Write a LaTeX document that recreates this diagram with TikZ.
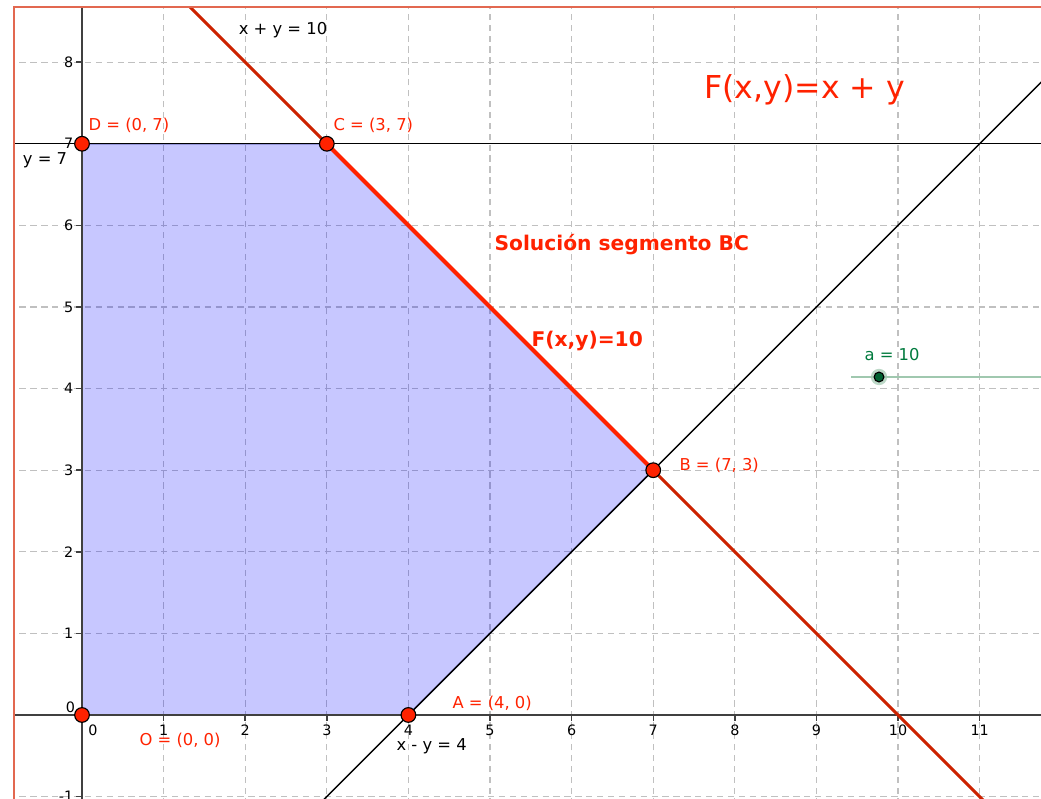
\documentclass[tikz,border=0pt]{standalone}
\usepackage{fontspec}
\setmainfont{DejaVu Sans}
\usetikzlibrary{positioning}

\definecolor{ggred}{RGB}{255,34,0}
\definecolor{ggdark}{RGB}{204,34,0}
\definecolor{ggframe}{RGB}{226,104,80}
\definecolor{gggrid}{RGB}{192,192,192}
\definecolor{ggaxis}{RGB}{64,64,64}
\definecolor{ggblue}{RGB}{60,60,150}
\definecolor{gggreen}{RGB}{0,122,61}
\definecolor{ggslider}{RGB}{160,200,175}

\begin{document}
\begin{tikzpicture}[
    gridline/.style={gggrid, line width=0.45pt, dash pattern=on 2.2pt off 1.6pt},
    axisline/.style={ggaxis, line width=0.5pt},
    thinline/.style={black, line width=0.45pt},
    pt/.style={circle, draw=black, line width=0.4pt, fill=ggred, inner sep=0pt, minimum size=0.18cm},
    lbl/.style={font=\fontsize{5.7}{7}\selectfont, inner sep=0pt},
    redlbl/.style={lbl, text=ggred, anchor=west},
    ticklbl/.style={font=\fontsize{5}{6}\selectfont, inner sep=0pt},
    boldlbl/.style={font=\bfseries\fontsize{7.05}{9}\selectfont, text=ggred, anchor=west, inner sep=0pt}
]

\useasboundingbox (-1.005,-1.029) rectangle (11.752,8.762);

% Vertices
\coordinate (o) at (0,0);
\coordinate (a) at (4,0);
\coordinate (b) at (7,3);
\coordinate (c) at (3,7);
\coordinate (d) at (0,7);

\begin{scope}
\clip (-0.833,-1.029) rectangle (11.752,8.676);

% Grid
\foreach \x in {1,...,11}
    \draw[gridline] (\x,-1.1) -- (\x,8.7);
\foreach \y in {-1,1,2,...,8}
    \draw[gridline] (-0.9,\y) -- (11.8,\y);

% Feasible region
\fill[blue, fill opacity=0.22] (o) -- (a) -- (b) -- (c) -- (d) -- cycle;
\draw[ggblue, line width=0.5pt] (o) -- (a) -- (b) -- (c) -- (d) -- cycle;

% Axes
\draw[axisline] (-0.9,0) -- (11.8,0);
\draw[axisline] (0,-1.1) -- (0,8.7);
\foreach \x in {1,...,11}
    \draw[axisline] (\x,0) -- (\x,-0.07);
\foreach \y in {-1,1,2,...,8}
    \draw[axisline] (0,\y) -- (-0.07,\y);

% Restrictions
\coordinate (h1) at (-0.9,7);
\coordinate (h2) at (11.8,7);
\draw[thinline] (h1) -- (h2);
\coordinate (m1) at (2.9,-1.1);
\coordinate (m2) at (11.8,7.8);
\draw[thinline] (m1) -- (m2);
\coordinate (s1) at (1.2,8.8);
\coordinate (s2) at (11.1,-1.1);
\draw[ggdark, line width=1.05pt] (s1) -- (s2);
\draw[ggred, line width=1.45pt] (c) -- (b);

% Slider
\coordinate (sl1) at (9.424,4.142);
\coordinate (sl2) at (11.8,4.142);
\draw[ggslider, line width=0.6pt] (sl1) -- (sl2);
\end{scope}

% Frame
\draw[ggframe, line width=0.75pt] (-0.833,-1.1) -- (-0.833,8.676) -- (11.8,8.676);

% Tick labels
\foreach \x in {1,...,11}
    \node[ticklbl, anchor=north] (xt\x) at (\x,-0.12) {\x};
\node[ticklbl, anchor=north] (xt0) at (0.135,-0.12) {0};
\foreach \y in {-1,1,2,...,8}
    \node[ticklbl, anchor=east] (yt\y) at (-0.1,\y) {\y};
\node[ticklbl, anchor=east] (yt0) at (-0.08,0.09) {0};

% Points
\node[pt] (po) at (o) {};
\node[pt] (pa) at (a) {};
\node[pt] (pb) at (b) {};
\node[pt] (pc) at (c) {};
\node[pt] (pd) at (d) {};

\node[circle, fill=ggslider, fill opacity=0.7, inner sep=0pt, minimum size=0.2cm] (halo) at (9.767,4.142) {};
\node[circle, draw=black, line width=0.4pt, fill=gggreen!80!black, inner sep=0pt, minimum size=0.12cm] (ap) at (9.767,4.142) {};

% Labels
\node[lbl] (eq10) at (2.463,8.395) {x + y = 10};
\node[lbl] (eq7) at (-0.453,6.801) {y = 7};
\node[lbl, anchor=west] (eq4) at (3.848,-0.380) {x - y = 4};
\node[redlbl] (ld) at (0.074,7.23) {D = (0, 7)};
\node[redlbl] (lc) at (3.076,7.23) {C = (3, 7)};
\node[redlbl] (lb) at (7.316,3.064) {B = (7, 3)};
\node[redlbl] (la) at (4.534,0.147) {A = (4, 0)};
\node[redlbl] (lo) at (0.699,-0.306) {O = (0, 0)};
\node[lbl, text=gggreen, anchor=west] (aval) at (9.583,4.412) {a = 10};

% Objective
\node[font=\fontsize{11}{13}\selectfont, text=ggred, anchor=west, inner sep=0pt] (fxy) at (7.622,7.659) {F(x,y)=x + y};
\node[boldlbl] (sol) at (5.049,5.760) {Solución segmento BC};
\node[boldlbl] (f10) at (5.502,4.583) {F(x,y)=10};

\end{tikzpicture}
\end{document}
